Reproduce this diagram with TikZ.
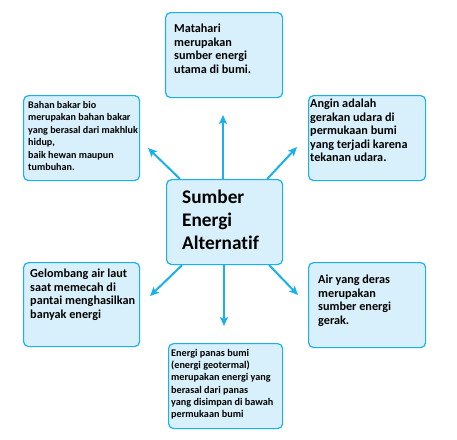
\documentclass[tikz,border=0pt]{standalone}
\usepackage{fontspec}
\setmainfont{Carlito}[Ligatures=NoCommon]
\usetikzlibrary{arrows.meta}
\definecolor{edgeblue}{HTML}{1AB0EC}
\definecolor{fillblue}{HTML}{D8F0FB}
\tikzset{
  box/.style={draw=edgeblue, fill=fillblue, line width=1.2pt, rounded corners=5pt, anchor=north west, inner sep=0pt},
  txt/.style={anchor=north west, inner sep=0pt, align=left, font=\bfseries\fontsize{12.2}{13.5}\selectfont},
  smalltxt/.style={txt, font=\bfseries\fontsize{10.1}{12.5}\selectfont},
  geotxtstyle/.style={txt, font=\bfseries\fontsize{10.2}{12.3}\selectfont},
  bigtxt/.style={txt, font=\bfseries\fontsize{19.3}{23}\selectfont},
  arr/.style={draw=edgeblue, line width=2pt, -{Stealth[length=9pt,width=8pt,inset=2pt]}}
}
\begin{document}
\begin{tikzpicture}[x=1pt,y=-1pt]
\useasboundingbox (0,0) rectangle (457,439);
% boxes
\node[box, minimum width=117pt, minimum height=85pt] (top) at (165,12) {};
\node[box, minimum width=116pt, minimum height=85pt] (bio) at (23,95) {};
\node[box, minimum width=117pt, minimum height=85pt] (angin) at (308,95) {};
\node[box, minimum width=116pt, minimum height=85pt] (center) at (166,179) {};
\node[box, minimum width=116pt, minimum height=84pt] (gel) at (23,262) {};
\node[box, minimum width=117pt, minimum height=85pt] (air) at (308,262) {};
\node[box, minimum width=114pt, minimum height=85pt] (geo) at (168,343) {};
% texts
\node[txt] (toptxt) at (174,24) {Matahari\\merupakan\\sumber energi\\utama di bumi.};
\node[smalltxt] (biotxt) at (28,101) {Bahan bakar bio\\merupakan bahan bakar\\yang berasal dari makhluk\\hidup,\\baik hewan maupun\\tumbuhan.};
\node[txt] (angintxt) at (310,99) {Angin adalah\\gerakan udara di\\permukaan bumi\\yang terjadi karena\\tekanan udara.};
\node[bigtxt] (centertxt) at (182,190) {Sumber\\Energi\\Alternatif};
\node[txt] (geltxt) at (30,269) {Gelombang air laut\\saat memecah di\\pantai menghasilkan\\banyak energi};
\node[txt] (airtxt) at (318,275) {Air yang deras\\merupakan\\sumber energi\\gerak.};
\node[geotxtstyle] (geotxt) at (171,349) {Energi panas bumi\\(energi geotermal)\\merupakan energi yang\\berasal dari panas\\yang disimpan di bawah\\permukaan bumi};
% arrow ends
\coordinate (tU) at (223,115);
\coordinate (tLU) at (148,148);
\coordinate (tRU) at (297,147);
\coordinate (tLD) at (150,296);
\coordinate (tD) at (224,326);
\coordinate (tRD) at (298,295);
\draw[arr] (center.north west -| tU) -- (tU);
\draw[arr] ([xshift=14pt]center.north west) -- (tLU);
\draw[arr] ([xshift=-16pt]center.north east) -- (tRU);
\draw[arr] ([xshift=16pt]center.south west) -- (tLD);
\draw[arr] (center.south west -| tD) -- (tD);
\draw[arr] ([xshift=-14pt]center.south east) -- (tRD);
\end{tikzpicture}
\end{document}
